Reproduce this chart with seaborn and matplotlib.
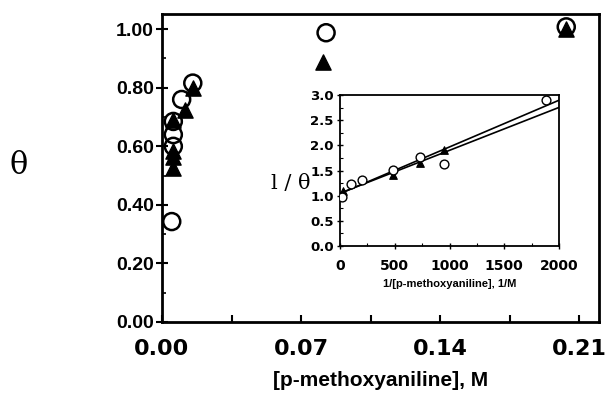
import numpy as np
import pandas as pd
import matplotlib
matplotlib.use("Agg")
import matplotlib.pyplot as plt
import seaborn as sns

# Fractional coverage vs. p-methoxyaniline concentration
conc_circle = [0.0049, 0.0057, 0.0057, 0.0057, 0.0099, 0.0155, 0.0826, 0.2035]
theta_circle = [0.343, 0.60, 0.64, 0.685, 0.76, 0.816, 0.988, 1.008]
conc_triangle = [0.0057, 0.0057, 0.0057, 0.0057, 0.0116, 0.0156, 0.081, 0.2035]
theta_triangle = [0.525, 0.565, 0.585, 0.69, 0.725, 0.80, 0.889, 1.00]

# Double-reciprocal data for the inset
inv_conc_circle = [15, 97, 198, 480, 730, 951, 1884]
inv_theta_circle = [0.98, 1.23, 1.31, 1.52, 1.76, 1.63, 2.90]
inv_conc_triangle = [25, 480, 730, 951]
inv_theta_triangle = [1.10, 1.41, 1.65, 1.90]

main_xticks = [0.00, 0.07, 0.14, 0.21]
main_yticks = [0.00, 0.20, 0.40, 0.60, 0.80, 1.00]
inset_xticks = [0, 500, 1000, 1500, 2000]
inset_yticks = [0.0, 0.5, 1.0, 1.5, 2.0, 2.5, 3.0]

sns.set_style("ticks")
plt.rcParams["font.family"] = ["Liberation Sans", "DejaVu Sans"]
plt.rcParams["font.weight"] = "bold"
for key in ("text.color", "axes.labelcolor", "xtick.color", "ytick.color"):
    plt.rcParams[key] = "black"

fig = plt.figure(figsize=(6.12, 4.08), dpi=100)
ax = fig.add_axes([0.2647, 0.2108, 0.7141, 0.7549])

df_c = pd.DataFrame({"x": conc_circle, "y": theta_circle})
df_t = pd.DataFrame({"x": conc_triangle, "y": theta_triangle})
sns.scatterplot(data=df_t, x="x", y="y", ax=ax, marker="^", s=120,
                color="black", edgecolor="black", linewidth=1.0, zorder=3)
sns.scatterplot(data=df_c, x="x", y="y", ax=ax, marker="o", s=150,
                facecolor="none", edgecolor="black", linewidth=1.8, zorder=4)

ax.set_xlim(0, 0.220)
ax.set_ylim(0, 1.052)
ax.set_xticks(main_xticks)
ax.set_xticklabels([f"{v:.2f}" for v in main_xticks])
ax.set_xticks(np.arange(0, 0.22, 0.035), minor=True)
ax.set_yticks(main_yticks)
ax.set_yticklabels([f"{v:.2f}" for v in main_yticks])
ax.set_yticks(np.arange(0, 1.05, 0.1), minor=True)
for lbl in ax.get_xticklabels():
    lbl.set_fontsize(16)
    lbl.set_fontweight("bold")
    lbl.set_fontfamily(["DejaVu Sans"])
for lbl in ax.get_yticklabels():
    lbl.set_fontsize(14)
    lbl.set_fontweight("bold")
ax.tick_params(axis="x", which="both", direction="in", length=5, width=1.5, pad=12)
ax.tick_params(axis="y", which="major", direction="inout", length=8, width=1.5, pad=2)
ax.tick_params(axis="y", which="minor", direction="in", length=3, width=1.2)
for s in ax.spines.values():
    s.set_linewidth(2.0)
    s.set_color("black")
ax.set_xlabel("[p-methoxyaniline], M", fontsize=15, fontweight="bold", labelpad=9)
ax.set_ylabel("")
fig.text(0.03, 0.595, "θ", fontsize=22, fontweight="normal",
         family=["DejaVu Serif"], ha="center", va="center")

# Inset: 1/theta vs 1/[p-methoxyaniline]
axi = fig.add_axes([0.5556, 0.397, 0.3578, 0.370])
di_c = pd.DataFrame({"x": inv_conc_circle, "y": inv_theta_circle})
di_t = pd.DataFrame({"x": inv_conc_triangle, "y": inv_theta_triangle})
xs = np.array([0, 2000])
for xv, yv in ((inv_conc_circle, inv_theta_circle), (inv_conc_triangle, inv_theta_triangle)):
    m, b = np.polyfit(xv, yv, 1)
    axi.plot(xs, m * xs + b, color="black", linewidth=1.2, zorder=2)
sns.scatterplot(data=di_t, x="x", y="y", ax=axi, marker="^", s=30,
                color="black", edgecolor="black", linewidth=0.8, zorder=3)
sns.scatterplot(data=di_c, x="x", y="y", ax=axi, marker="o", s=40,
                facecolor="white", edgecolor="black", linewidth=1.0, zorder=4)
axi.set_xlim(0, 2000)
axi.set_ylim(0, 3.0)
axi.set_xticks(inset_xticks)
axi.set_xticklabels([str(v) for v in inset_xticks])
axi.set_yticks(inset_yticks)
axi.set_yticklabels([f"{v:.1f}" for v in inset_yticks])
axi.set_xticks(np.arange(0, 2001, 250), minor=True)
axi.set_yticks(np.arange(0, 3.01, 0.25), minor=True)
for lbl in axi.get_xticklabels():
    lbl.set_fontsize(10)
    lbl.set_fontweight("bold")
    lbl.set_fontfamily(["DejaVu Sans"])
for lbl in axi.get_yticklabels():
    lbl.set_fontsize(9.5)
    lbl.set_fontweight("bold")
    lbl.set_fontfamily(["DejaVu Sans"])
axi.tick_params(axis="both", which="major", direction="inout", length=5, width=1.0, pad=2)
axi.tick_params(axis="x", which="major", pad=7)
axi.tick_params(axis="both", which="minor", direction="in", length=2, width=0.8)
for s in axi.spines.values():
    s.set_linewidth(1.3)
    s.set_color("black")
axi.set_xlabel("1/[p-methoxyaniline], 1/M", fontsize=8, fontweight="bold", labelpad=4)
axi.set_ylabel("")
fig.text(0.475, 0.55, "l / θ", fontsize=15, fontweight="normal",
         family=["DejaVu Serif"], ha="center", va="center")

fig.savefig("out.png", dpi=100)
